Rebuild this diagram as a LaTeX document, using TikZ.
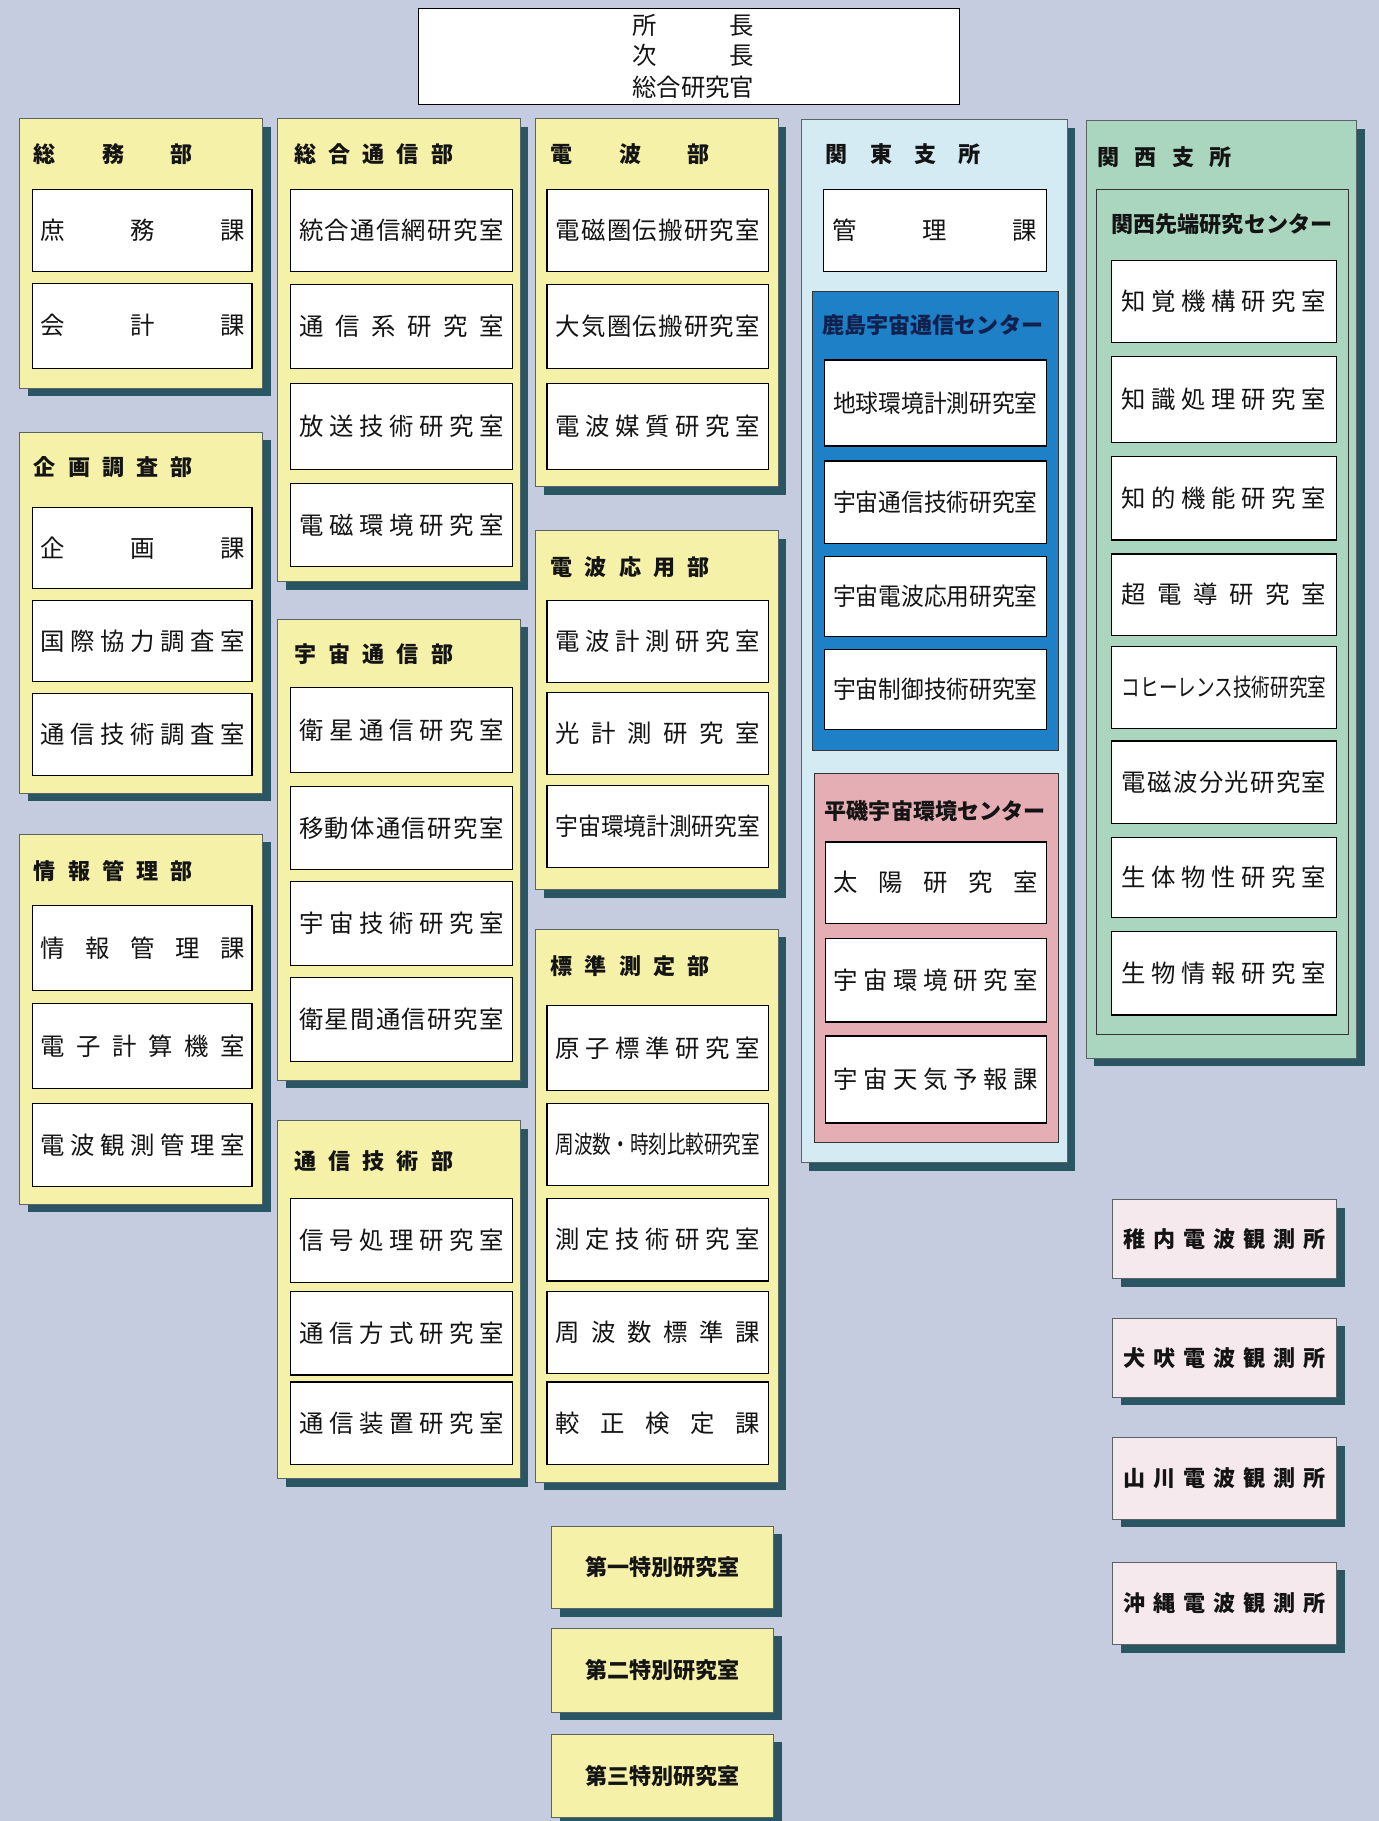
\documentclass[tikz,border=0pt]{standalone}
\usepackage{fontspec}
\usepackage{graphicx}
\setmainfont{Noto Sans CJK JP}
\usetikzlibrary{shadows}
\definecolor{bgc}{RGB}{198,204,224}
\definecolor{yel}{RGB}{246,241,168}
\definecolor{kanto}{RGB}{213,235,243}
\definecolor{kashima}{RGB}{30,128,198}
\definecolor{hiraiso}{RGB}{229,173,180}
\definecolor{kansai}{RGB}{170,213,190}
\definecolor{obs}{RGB}{245,233,238}
\definecolor{shc}{RGB}{42,86,100}
\definecolor{navy}{RGB}{18,32,78}
\definecolor{pbord}{RGB}{90,100,100}
\definecolor{txt}{RGB}{20,20,20}

\newlength\fitw \setlength\fitw{176pt}
\newlength\natw
\def\spfirst#1{#1\sprest}
\def\sprest#1{\ifx\relax#1\else\hfill#1\expandafter\sprest\fi}
\newcommand\spreadw[2]{\makebox[#1]{\spfirst#2\relax}}
\newcommand\fit[1]{\settowidth\natw{#1}\ifdim\natw>\fitw\resizebox{\fitw}{\height}{#1}\else\spreadw{\fitw}{#1}\fi}

\tikzset{
  ibox/.style={draw=black, line width=1pt, fill=white, inner sep=0pt, text=txt,
    font=\fontsize{21}{24}\selectfont},
  panel/.style={draw=pbord, line width=0.6pt, inner sep=0pt,
    drop shadow={shadow xshift=7pt, shadow yshift=-7pt, fill=shc, opacity=1}},
  subpanel/.style={draw=black!80, line width=0.8pt, inner sep=0pt},
  ttl/.style={anchor=west, inner sep=0pt, text=txt, font=\fontsize{19}{22}\selectfont\bfseries},
  btxt/.style={font=\fontsize{19}{22}\selectfont\bfseries, text=txt},
}

% name, x1, y1, x2, y2, style
\newcommand\pan[6]{\node[#6, minimum width={#4-#2}, minimum height={#5-#3}] (#1) at ({(#2+#4)/2},{(#3+#5)/2}) {};}
% name, x1, y1, x2, y2, text
\newcommand\ibx[6]{\node[ibox, minimum width={#4-#2}, minimum height={#5-#3}] (#1) at ({(#2+#4)/2},{(#3+#5)/2}) {\fit{#6}};}

\begin{document}
\begin{tikzpicture}[x=1pt,y=-1pt]
\useasboundingbox (0,0) rectangle (1187,1568);
\fill[bgc] (0,0) rectangle (1187,1568);

% top box
\node[draw=black, line width=1pt, fill=white, inner sep=0pt, minimum width=466, minimum height=83] (top) at (593,48.5) {};
\node[font=\fontsize{21}{24}\selectfont, text=txt, inner sep=0pt] (top1) at (597,22) {\spreadw{105pt}{所長}};
\node[font=\fontsize{21}{24}\selectfont, text=txt, inner sep=0pt] (top2) at (597,48) {\spreadw{105pt}{次長}};
\node[font=\fontsize{21}{24}\selectfont, text=txt, inner sep=0pt] (top3) at (597,75) {\spreadw{105pt}{総合研究官}};

% column 1
\pan{p1}{17}{102}{226}{334}{panel,fill=yel}
\node[ttl] (p1t) at (29,133) {\spreadw{137pt}{総務部}};
\ibx{b11}{28}{163}{217}{234}{庶務課}
\ibx{b12}{28}{244}{217}{317}{会計課}

\pan{p2}{17}{372}{226}{683}{panel,fill=yel}
\node[ttl] (p2t) at (29,402) {\spreadw{137pt}{企画調査部}};
\ibx{b21}{28}{437}{217}{507}{企画課}
\ibx{b22}{28}{517}{217}{587}{国際協力調査室}
\ibx{b23}{28}{597}{217}{668}{通信技術調査室}

\pan{p3}{17}{718}{226}{1037}{panel,fill=yel}
\node[ttl] (p3t) at (29,750) {\spreadw{137pt}{情報管理部}};
\ibx{b31}{28}{780}{217}{853}{情報管理課}
\ibx{b32}{28}{864}{217}{937}{電子計算機室}
\ibx{b33}{28}{950}{217}{1022}{電波観測管理室}

% column 2
\pan{p4}{239}{102}{448}{501}{panel,fill=yel}
\node[ttl] (p4t) at (253,133) {\spreadw{137pt}{総合通信部}};
\ibx{b41}{250}{163}{441}{234}{統合通信網研究室}
\ibx{b42}{250}{245}{441}{317}{通信系研究室}
\ibx{b43}{250}{330}{441}{404}{放送技術研究室}
\ibx{b44}{250}{416}{441}{488}{電磁環境研究室}

\pan{p5}{239}{533}{448}{930}{panel,fill=yel}
\node[ttl] (p5t) at (253,563) {\spreadw{137pt}{宇宙通信部}};
\ibx{b51}{250}{592}{441}{665}{衛星通信研究室}
\ibx{b52}{250}{677}{441}{749}{移動体通信研究室}
\ibx{b53}{250}{759}{441}{831}{宇宙技術研究室}
\ibx{b54}{250}{842}{441}{914}{衛星間通信研究室}

\pan{p6}{239}{965}{448}{1273}{panel,fill=yel}
\node[ttl] (p6t) at (253,1000) {\spreadw{137pt}{通信技術部}};
\ibx{b61}{250}{1032}{441}{1104}{信号処理研究室}
\ibx{b62}{250}{1112}{441}{1184}{通信方式研究室}
\ibx{b63}{250}{1190}{441}{1261}{通信装置研究室}

% column 3
\pan{p7}{461}{102}{670}{419}{panel,fill=yel}
\node[ttl] (p7t) at (474,133) {\spreadw{137pt}{電波部}};
\ibx{b71}{471}{163}{662}{234}{電磁圏伝搬研究室}
\ibx{b72}{471}{245}{662}{317}{大気圏伝搬研究室}
\ibx{b73}{471}{330}{662}{404}{電波媒質研究室}

\pan{p8}{461}{457}{670}{766}{panel,fill=yel}
\node[ttl] (p8t) at (474,488) {\spreadw{137pt}{電波応用部}};
\ibx{b81}{471}{517}{662}{588}{電波計測研究室}
\ibx{b82}{471}{596}{662}{667}{光計測研究室}
\ibx{b83}{471}{676}{662}{747}{宇宙環境計測研究室}

\pan{p9}{461}{800}{670}{1276}{panel,fill=yel}
\node[ttl] (p9t) at (474,832) {\spreadw{137pt}{標準測定部}};
\ibx{b91}{471}{866}{662}{939}{原子標準研究室}
\ibx{b92}{471}{950}{662}{1021}{周波数・時刻比較研究室}
\ibx{b93}{471}{1032}{662}{1103}{測定技術研究室}
\ibx{b94}{471}{1112}{662}{1183}{周波数標準課}
\ibx{b95}{471}{1190}{662}{1261}{較正検定課}

% special labs
\pan{s1}{475}{1314}{666}{1385}{panel,fill=yel}
\node[btxt] (s1t) at (s1) {第一特別研究室};
\pan{s2}{475}{1402}{666}{1474}{panel,fill=yel}
\node[btxt] (s2t) at (s2) {第二特別研究室};
\pan{s3}{475}{1493}{666}{1565}{panel,fill=yel}
\node[btxt] (s3t) at (s3) {第三特別研究室};

% Kanto
\pan{p10}{690}{103}{919}{1001}{panel,fill=kanto}
\node[ttl] (p10t) at (711,133) {\spreadw{133pt}{関東支所}};
\ibx{k0}{709}{163}{901}{234}{管理課}

\pan{ka}{700}{251}{911}{646}{subpanel,fill=kashima}
\node[ttl, text=navy] (kat) at (708,280) {鹿島宇宙通信センター};
\ibx{ka1}{710}{310}{901}{384}{地球環境計測研究室}
\ibx{ka2}{710}{397}{901}{468}{宇宙通信技術研究室}
\ibx{ka3}{710}{479}{901}{548}{宇宙電波応用研究室}
\ibx{ka4}{710}{559}{901}{628}{宇宙制御技術研究室}

\pan{hi}{701}{666}{911}{984}{subpanel,fill=hiraiso}
\node[ttl] (hit) at (710,698) {平磯宇宙環境センター};
\ibx{hi1}{711}{725}{901}{795}{太陽研究室}
\ibx{hi2}{711}{808}{901}{880}{宇宙環境研究室}
\ibx{hi3}{711}{892}{901}{967}{宇宙天気予報課}

% Kansai
\pan{p11}{935}{104}{1168}{911}{panel,fill=kansai}
\node[ttl] (p11t) at (945,135) {\spreadw{115pt}{関西支所}};
\pan{kn}{944}{163}{1161}{891}{subpanel,fill=kansai}
\node[ttl] (knt) at (957,193) {関西先端研究センター};
\ibx{kn1}{957}{224}{1151}{295}{知覚機構研究室}
\ibx{kn2}{957}{307}{1151}{381}{知識処理研究室}
\ibx{kn3}{957}{393}{1151}{465}{知的機能研究室}
\ibx{kn4}{957}{477}{1151}{547}{超電導研究室}
\ibx{kn5}{957}{557}{1151}{627}{コヒーレンス技術研究室}
\ibx{kn6}{957}{638}{1151}{709}{電磁波分光研究室}
\ibx{kn7}{957}{721}{1151}{790}{生体物性研究室}
\ibx{kn8}{957}{802}{1151}{874}{生物情報研究室}

% observatories
\pan{o1}{958}{1033}{1151}{1101}{panel,fill=obs}
\node[btxt] (o1t) at (o1) {\spreadw{174pt}{稚内電波観測所}};
\pan{o2}{958}{1135}{1151}{1203}{panel,fill=obs}
\node[btxt] (o2t) at (o2) {\spreadw{174pt}{犬吠電波観測所}};
\pan{o3}{958}{1238}{1151}{1308}{panel,fill=obs}
\node[btxt] (o3t) at (o3) {\spreadw{174pt}{山川電波観測所}};
\pan{o4}{958}{1345}{1151}{1416}{panel,fill=obs}
\node[btxt] (o4t) at (o4) {\spreadw{174pt}{沖縄電波観測所}};
\end{tikzpicture}
\end{document}
